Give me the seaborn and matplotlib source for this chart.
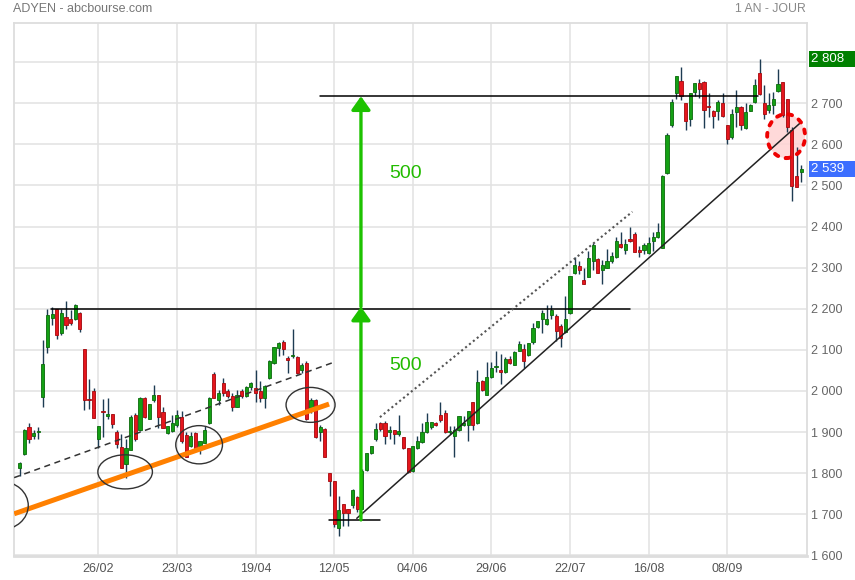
import numpy as np
import pandas as pd
import matplotlib
matplotlib.use('Agg')
import matplotlib.pyplot as plt
import matplotlib.transforms as mtransforms
from matplotlib.patches import Ellipse, Rectangle
import seaborn as sns

# daily candles, ADYEN
opens = [1812, 1846, 1911, 1891, 1900, 1984, 2107, 2178, 2200, 2141,
         2181, 2176, 2176, 2190, 2101, 1980, 1999, 1882, 1950, 1939,
         1943, 1899, 1863, 1822, 1856, 1941, 1905, 1982, 1931, 1978,
         1990, 1948, 1897, 1903, 1916, 1936, 1893, 1865, 1897, 1865,
         1873, 1922, 2042, 1978, 2019, 1999, 1988, 1962, 1999, 1988,
         2009, 2007, 2000, 1982, 2031, 2068, 2104, 2120, 2080, 2084,
         2082, 2051, 2068, 1958, 1977, 1901, 1907, 1801, 1781, 1666,
         1724, 1712, 1722, 1741, 1712, 1808, 1848, 1882, 1923, 1921,
         1900, 1905, 1895, 1887, 1860, 1805, 1860, 1876, 1900, 1911,
         1921, 1941, 1947, 1900, 1890, 1904, 1916, 1916, 1974, 1922,
         2024, 1991, 2034, 2057, 2051, 2046, 2078, 2064, 2098, 2102,
         2088, 2118, 2155, 2175, 2162, 2184, 2183, 2158, 2144, 2190,
         2286, 2303, 2269, 2277, 2315, 2321, 2294, 2300, 2317, 2325,
         2357, 2343, 2370, 2382, 2343, 2343, 2335, 2364, 2374, 2348,
         2530, 2647, 2724, 2753, 2700, 2661, 2728, 2749, 2751, 2693,
         2682, 2681, 2700, 2648, 2617, 2679, 2690, 2639, 2682, 2704,
         2773, 2700, 2684, 2696, 2731, 2751, 2710, 2636, 2522, 2532]
highs = [1826, 1908, 1923, 1905, 1913, 2123, 2200, 2204, 2200, 2200,
         2220, 2198, 2212, 2191, 2103, 2028, 2006, 1915, 1980, 1982,
         1943, 1905, 1894, 1884, 1941, 1947, 1986, 1986, 1967, 2014,
         1990, 1961, 1914, 1941, 1953, 1950, 1901, 1901, 1899, 1879,
         1915, 1985, 2047, 2003, 2031, 2005, 1995, 2003, 2004, 2012,
         2021, 2051, 2023, 2015, 2076, 2108, 2119, 2124, 2084, 2151,
         2084, 2068, 2072, 1982, 1981, 1918, 1909, 1801, 1781, 1745,
         1724, 1712, 1762, 1745, 1809, 1848, 1866, 1923, 1925, 1927,
         1915, 1905, 1941, 1887, 1862, 1866, 1891, 1923, 1947, 1925,
         1925, 1972, 1954, 1914, 1914, 1938, 1938, 1950, 1974, 2051,
         2026, 2070, 2070, 2098, 2090, 2082, 2086, 2098, 2122, 2114,
         2117, 2166, 2171, 2198, 2208, 2208, 2187, 2162, 2230, 2280,
         2326, 2317, 2300, 2341, 2359, 2323, 2318, 2345, 2337, 2374,
         2387, 2369, 2400, 2386, 2353, 2359, 2374, 2386, 2408, 2525,
         2628, 2710, 2767, 2788, 2700, 2724, 2750, 2758, 2753, 2724,
         2684, 2708, 2726, 2648, 2685, 2732, 2693, 2700, 2698, 2758,
         2808, 2745, 2726, 2728, 2783, 2751, 2710, 2643, 2594, 2549]
lows = [1793, 1845, 1874, 1884, 1884, 1961, 2092, 2160, 2127, 2135,
        2151, 2160, 2172, 2143, 1953, 1955, 1935, 1860, 1888, 1931,
        1909, 1860, 1813, 1787, 1855, 1879, 1903, 1935, 1931, 1973,
        1909, 1909, 1895, 1901, 1913, 1873, 1838, 1863, 1858, 1847,
        1873, 1920, 1982, 1966, 1988, 1982, 1950, 1960, 1982, 1985,
        2003, 1974, 1974, 1958, 2029, 2065, 2084, 2088, 2043, 2080,
        2042, 2043, 1930, 1946, 1885, 1877, 1840, 1745, 1668, 1647,
        1672, 1672, 1714, 1705, 1712, 1805, 1846, 1878, 1903, 1870,
        1882, 1870, 1891, 1858, 1801, 1803, 1858, 1874, 1898, 1908,
        1915, 1925, 1898, 1896, 1840, 1902, 1914, 1878, 1904, 1920,
        1999, 1990, 2032, 2046, 2016, 2043, 2066, 2062, 2096, 2056,
        2086, 2115, 2154, 2142, 2160, 2176, 2122, 2106, 2142, 2188,
        2284, 2284, 2259, 2276, 2294, 2286, 2261, 2299, 2312, 2323,
        2347, 2333, 2362, 2337, 2325, 2333, 2334, 2341, 2372, 2347,
        2529, 2641, 2710, 2708, 2635, 2644, 2718, 2712, 2639, 2667,
        2639, 2659, 2667, 2600, 2614, 2643, 2636, 2637, 2680, 2701,
        2720, 2661, 2677, 2675, 2728, 2667, 2631, 2462, 2495, 2508]
closes = [1825, 1905, 1884, 1897, 1901, 2066, 2184, 2188, 2135, 2190,
          2160, 2165, 2210, 2151, 1979, 1978, 1935, 1915, 1949, 1944,
          1919, 1872, 1813, 1860, 1937, 1884, 1982, 1937, 1967, 1991,
          1937, 1909, 1914, 1921, 1942, 1879, 1840, 1891, 1861, 1877,
          1905, 1982, 1982, 1996, 1995, 1988, 1961, 1990, 1988, 2009,
          2019, 1996, 1982, 2012, 2072, 2106, 2116, 2102, 2074, 2086,
          2043, 2064, 1931, 1977, 1889, 1913, 1840, 1781, 1677, 1710,
          1704, 1702, 1758, 1712, 1805, 1848, 1866, 1908, 1908, 1891,
          1905, 1895, 1903, 1860, 1803, 1865, 1878, 1900, 1925, 1925,
          1917, 1929, 1900, 1901, 1906, 1938, 1923, 1950, 1916, 2022,
          2002, 2035, 2056, 2058, 2046, 2078, 2067, 2095, 2115, 2072,
          2117, 2152, 2171, 2189, 2176, 2196, 2146, 2128, 2176, 2280,
          2306, 2294, 2259, 2323, 2356, 2286, 2306, 2317, 2329, 2365,
          2349, 2357, 2364, 2337, 2339, 2356, 2359, 2375, 2386, 2522,
          2622, 2704, 2767, 2718, 2657, 2724, 2749, 2734, 2684, 2690,
          2669, 2704, 2669, 2612, 2674, 2690, 2647, 2679, 2696, 2745,
          2722, 2674, 2696, 2710, 2747, 2671, 2643, 2498, 2495, 2539]

date_labels = ['26/02', '23/03', '19/04', '12/05', '04/06', '29/06', '22/07', '16/08', '08/09']
price_ticks = [1600, 1700, 1800, 1900, 2000, 2100, 2200, 2300, 2400, 2500, 2600, 2700, 2800]

# drawn analysis (x = trading day index, y = price)
hlines = [(6.8, 132.0, 2200), (64.9, 159.7, 2717), (66.9, 77.9, 1686)]
support_line = [(72.9, 169.1), (1690, 2655)]
channel_line = [(77.9, 132.5), (1936, 2436)]
dashed_line = [(-1.2, 68.0), (1789, 2070)]
orange_line = [(-1.2, 66.9), (1701, 1968)]
circles = [(-4.0, 1721, 11.7, 117), (22.8, 1803, 11.8, 83),
           (38.8, 1869, 10.1, 93), (62.9, 1966, 10.6, 85)]
red_circle = (165.75, 2620, 8.2, 107)
arrows = [(73.8, 1686, 2205), (73.8, 2205, 2717)]
gain_labels = [(83.4, 2063, '500'), (83.4, 2529, '500')]

df = pd.DataFrame({'open': opens, 'high': highs, 'low': lows, 'close': closes})
df['day'] = np.arange(len(df))
df['up'] = df['close'] >= df['open']

sns.set_theme(style='white')
plt.rcParams['font.family'] = ['Liberation Sans', 'DejaVu Sans']

fig = plt.figure(figsize=(8.55, 5.8), dpi=100)
ax = fig.add_axes([14.3 / 855, 24.3 / 580, 792.4 / 855, 533 / 580])

GREEN, GREEN_EDGE = '#14a014', '#0b6a0b'
RED, RED_EDGE = '#e5161d', '#a5080c'

# wicks
ax.vlines(df['day'], df['low'], df['high'], color='#1d3b52', lw=1, zorder=3)
# bodies
for up, face, edge in [(True, GREEN, GREEN_EDGE), (False, RED, RED_EDGE)]:
    d = df[df['up'] == up]
    h = (d['close'] - d['open']).abs().clip(lower=3)
    ax.bar(d['day'], h, bottom=d[['open', 'close']].min(axis=1), width=0.68,
           color=face, edgecolor=edge, linewidth=0.6, zorder=4)

# analysis lines
for x0, x1, y in hlines:
    ax.plot([x0, x1], [y, y], color='black', lw=1.1, zorder=5)
ax.plot(*support_line, color='#222222', lw=1.1, zorder=5)
ax.plot(*channel_line, color='#555555', lw=1.5, ls=(0, (1, 1.4)), zorder=5)
ax.plot(*dashed_line, color='#333333', lw=1.1, ls=(0, (4, 3)), zorder=5)
ax.plot(*orange_line, color='#ff8000', lw=3.6, solid_capstyle='butt', zorder=6)

for cx, cy, w, h in circles:
    ax.add_patch(Ellipse((cx, cy), w, h, fill=False, edgecolor='#333333', lw=1, zorder=6))
cx, cy, w, h = red_circle
ax.add_patch(Ellipse((cx, cy), w, h, facecolor='#ffd3d3', edgecolor='none', alpha=0.85, zorder=2))
ax.add_patch(Ellipse((cx, cy), w, h, fill=False, edgecolor='#ee0000', lw=2.8,
                     ls=(0, (1, 2.0)), capstyle='round', zorder=7))

for x, y0, y1 in arrows:
    ax.annotate('', xy=(x, y1), xytext=(x, y0),
                arrowprops=dict(arrowstyle='-|>,head_length=0.45,head_width=0.32',
                                color='#1dc200', lw=2.4, mutation_scale=18,
                                shrinkA=0, shrinkB=0), zorder=8)
for x, y, s in gain_labels:
    ax.text(x, y, s, color='#22bb00', fontsize=14, ha='center', va='center', zorder=8)

# axes
ax.set_xlim(-1.17, 170.2)
ax.set_ylim(1599, 2896)
ax.set_xticks(range(17, 17 * (len(date_labels) + 1), 17))
ax.set_xticklabels(date_labels)
ax.set_yticks(price_ticks)
# the top level is hidden behind the high flag in the original
ax.set_yticklabels([f'{p // 1000} {p % 1000:03d}' if p < 2800 else '' for p in price_ticks])
ax.yaxis.tick_right()
ax.tick_params(axis='y', length=0, pad=3.2, labelsize=9, labelcolor='#666666')
ax.tick_params(axis='x', length=0, pad=5, labelsize=9, labelcolor='#555555')
ax.grid(True, color='#e2e2e2', lw=1.1)
ax.set_axisbelow(True)
for sp in ax.spines.values():
    sp.set_color('#dddddd')
    sp.set_linewidth(1.3)
ax.spines['bottom'].set_linewidth(2)

# price flags on the right
trans = mtransforms.blended_transform_factory(ax.transAxes, ax.transData)
max_high = df['high'].max()
last_close = df['close'].iloc[-1]
for val, col in [(max_high, '#008000'), (last_close, '#3c6eff')]:
    ax.add_patch(Rectangle((1.0025, val - 19.5), 0.06, 39, transform=trans,
                           facecolor=col, edgecolor='none', clip_on=False, zorder=10))
    ax.text(1.0055, val, f'{val // 1000} {val % 1000:03d}', transform=trans, color='white',
            fontsize=9.5, va='center', ha='left', clip_on=False, zorder=11)

fig.text(13 / 855, 1 - 9.5 / 580, 'ADYEN - abcbourse.com', fontsize=9, color='#777777',
         ha='left', va='center')
fig.text(806 / 855, 1 - 8.5 / 580, '1 AN - JOUR', fontsize=8.8, color='#888888',
         ha='right', va='center')

fig.savefig('out.png', dpi=100)
